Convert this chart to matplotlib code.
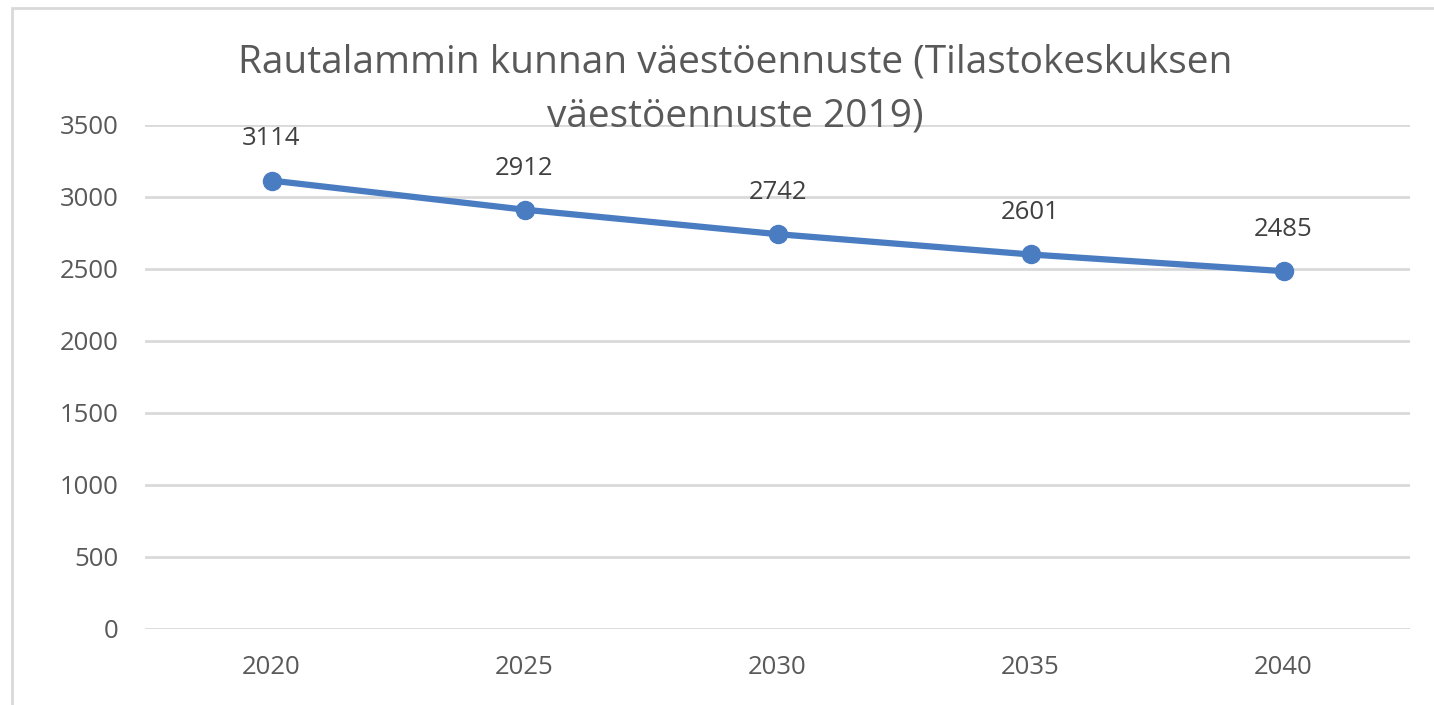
import matplotlib.pyplot as plt
from matplotlib.patches import Rectangle

# Data
years = ['2020', '2025', '2030', '2035', '2040']
population = [3114, 2912, 2742, 2601, 2485]
yticks = [0, 500, 1000, 1500, 2000, 2500, 3000, 3500]
title_lines = ['Rautalammin kunnan väestöennuste (Tilastokeskuksen',
               'väestöennuste 2019)']

plt.rcParams['font.family'] = ['Open Sans', 'DejaVu Sans']

W, H = 1434, 705
fig = plt.figure(figsize=(W / 100, H / 100), dpi=100)
ax = fig.add_axes([145 / W, 1 - 629 / H, (1410 - 145) / W, (629 - 125) / H])

# Outer chart border (cropped at right and bottom)
fig.patches.append(Rectangle((12 / W, -0.05), 1.1, 1 - 8 / H + 0.05,
                             transform=fig.transFigure, fill=False,
                             edgecolor='#d9d9d9', linewidth=2))

x = list(range(len(years)))
ax.plot(x, population, color='#4a7cc2', linewidth=4.5, marker='o',
        markersize=13, solid_capstyle='round', zorder=3)

for xi, v in zip(x, population):
    ax.annotate(str(v), (xi, v), xytext=(0, 21), textcoords='offset points',
                ha='center', va='bottom', fontsize=18.5, color='#404040')

ax.set_xlim(-0.5, len(years) - 0.5)
ax.set_ylim(0, 3500)
ax.set_xticks(x)
ax.set_xticklabels(years)
ax.set_yticks(yticks)
ax.yaxis.grid(True, color='#d9d9d9', linewidth=2)
ax.set_axisbelow(True)
for s in ax.spines.values():
    s.set_visible(False)
ax.tick_params(axis='both', length=0, labelsize=18.5, labelcolor='#595959')
ax.tick_params(axis='x', pad=19)
ax.tick_params(axis='y', pad=19)

# title as two separate lines so the second sits tight above the plot
for line, yp in zip(title_lines, [63, 117]):
    fig.text(735 / W, 1 - yp / H, line, ha='center', va='center',
             fontsize=28, color='#595959')

fig.savefig('out.png', dpi=100)
